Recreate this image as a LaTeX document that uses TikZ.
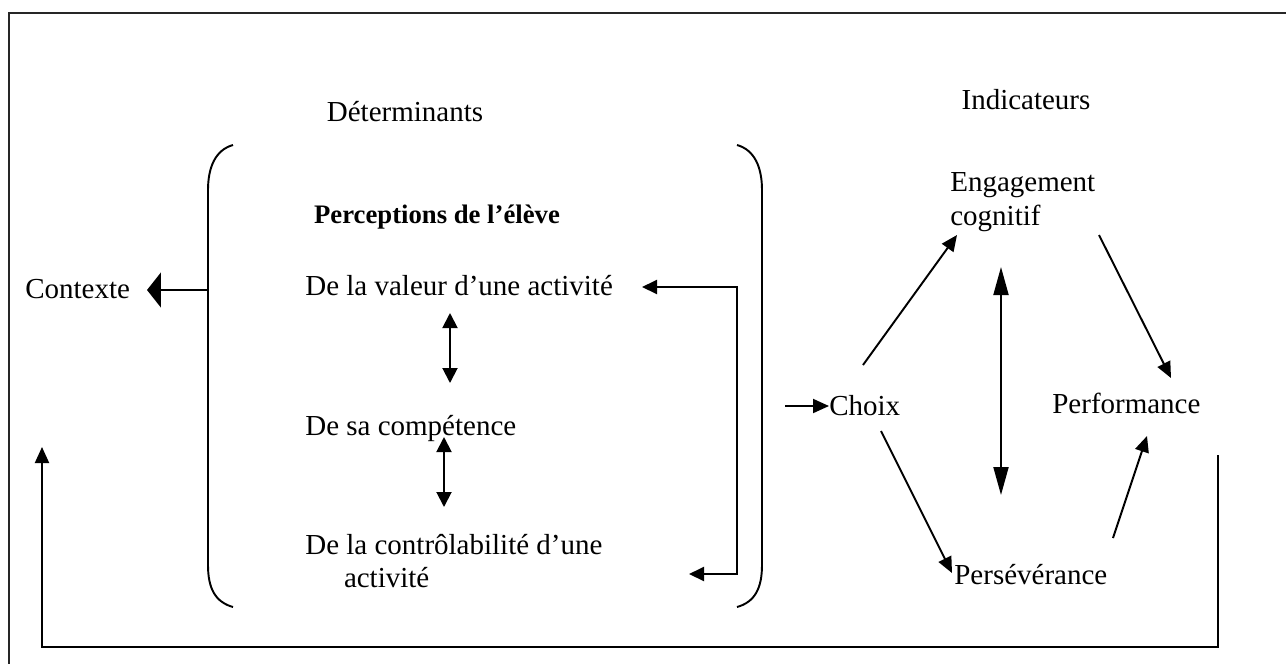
\documentclass[tikz,border=0pt]{standalone}
\usepackage{fontspec}
\setmainfont{Liberation Serif}
\usetikzlibrary{arrows.meta}
\begin{document}
\begin{tikzpicture}[
  x=0.02cm, y=-0.02cm,
  every node/.style={font=\fontsize{16.5}{19}\selectfont, inner sep=0pt},
  lbl/.style={anchor=west, align=left},
  arrow/.style={-{Triangle[length=0.32cm,width=0.28cm]}, line width=1.1pt},
  bigarrow/.style={-{Triangle[length=0.28cm,width=0.7cm]}, line width=1.1pt},
  dbl/.style={{Triangle[length=0.3cm,width=0.3cm]}-{Triangle[length=0.3cm,width=0.3cm]}, line width=1.1pt},
  longdbl/.style={{Triangle[length=0.56cm,width=0.3cm]}-{Triangle[length=0.56cm,width=0.3cm]}, line width=1.1pt},
  bracket/.style={line width=1.1pt}
]
\useasboundingbox (0,0) rectangle (1286,664);
\draw[line width=0.9pt, black!85] (1286,13) -- (9,13) -- (9,664);

% titres
\node (det) at (405,112) {D\'eterminants};
\node (ind) at (1026,100) {Indicateurs};

% determinants
\node[font=\fontsize{15.2}{18}\selectfont\bfseries] (perc) at (437,217) {Perceptions de l'\'el\`eve};
\node[lbl] (val) at (305,286) {De la valeur d’une activit\'e};
\node[lbl] (comp) at (305,428) {De sa comp\'etence};
\node[lbl] (ctrl) at (305,561) {De la contr\^olabilit\'e d’une\\\hspace{22pt}activit\'e};
\node[lbl] (ctx) at (25,289) {Contexte};

% crochets
\draw[bracket] (233,145) .. controls (215,150) and (208,168) .. (208,190) -- (208,565)
  .. controls (208,588) and (215,602) .. (233,607);
\draw[bracket] (737,145) .. controls (755,150) and (762,168) .. (762,190) -- (762,565)
  .. controls (762,588) and (755,602) .. (737,607);
\coordinate (lb) at (208,290);
\coordinate (ctxin) at (147,290);
\draw[bigarrow] (lb) -- (ctxin);

% liens entre perceptions
\coordinate (v1) at (450,313);
\coordinate (c1) at (450,383);
\coordinate (c2) at (444,437);
\coordinate (r1) at (444,507);
\draw[dbl] (v1) -- (c1);
\draw[dbl] (c2) -- (r1);
\coordinate (valin) at (642,287);
\coordinate (ctrlin) at (689,574);
\draw[{Triangle[length=0.3cm,width=0.28cm]}-{Triangle[length=0.3cm,width=0.28cm]}, line width=1.1pt]
  (valin) -- (737,287) -- (737,574) -- (ctrlin);

% indicateurs
\node[lbl] (choix) at (829,406) {Choix};
\node[lbl] (eng) at (950,202) {Engagement\\cognitif};
\node[lbl] (perf) at (1052,403) {Performance};
\node[lbl] (pers) at (954,575) {Pers\'ev\'erance};

\coordinate (in) at (785,406);
\draw[arrow] (in) -- (choix.west);
\draw[arrow] (863,365) -- (957,235);
\draw[arrow] (1099,235) -- (1171,378);
\draw[arrow] (881,431) -- (952,573);
\draw[arrow] (1113,538) -- (1147,436);
\draw[longdbl] (1001,267) -- (1001,495);

% retour
\coordinate (fb1) at (1218,455);
\coordinate (fb2) at (42,447);
\draw[arrow] (fb1) -- (1218,647) -- (42,647) -- (fb2);
\end{tikzpicture}
\end{document}
